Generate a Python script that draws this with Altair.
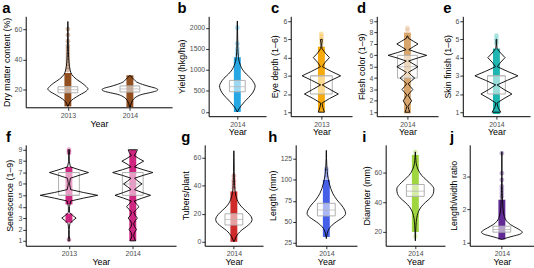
import altair as alt
import pandas as pd

FONT = "Liberation Sans"

# ---------------- values ----------------
# a  Dry matter content (%)
a_years = ["2013", "2014"]
a13_vy = [9, 10, 12, 14, 16.5, 19, 20.5, 22, 24.5, 27, 30, 33, 38, 45, 55, 65]
a13_vw = [0, 0.03, 0.08, 0.2, 0.42, 0.65, 0.72, 0.66, 0.5, 0.3, 0.14, 0.08, 0.04, 0.02, 0.01, 0]
a14_vy = [8.6, 10, 12, 14, 15.5, 17, 18, 19, 20, 21, 22, 23.5, 25, 26.5, 28, 29.5]
a14_vw = [0.01, 0.03, 0.07, 0.14, 0.25, 0.45, 0.7, 0.92, 1.0, 0.92, 0.72, 0.45, 0.25, 0.16, 0.08, 0]
a_strip_lo = [9, 8.6]
a_strip_hi = [31, 29.5]
a13_sparse = [33, 35, 37, 39, 41, 43, 45, 47, 49, 52, 56, 60]
a_q1 = [18, 18.5]
a_med = [20, 20.5]
a_q3 = [22, 22.5]

# b  Yield (hkg/ha)
b_vy = [0, 30, 80, 150, 250, 350, 450, 550, 620, 700, 800, 900, 1000, 1100, 1200, 1300, 1500, 2000, 2160]
b_vw = [0, 0.04, 0.1, 0.22, 0.42, 0.65, 0.85, 0.97, 1.0, 0.92, 0.75, 0.5, 0.3, 0.18, 0.1, 0.06, 0.03, 0.01, 0]
b_strip = [0, 1300]
b_sparse = [1350, 1420, 1500, 1620, 2000]
b_box = [480, 600, 750]

# c  Eye depth (1-6), 2013
c_vy = [1.0, 1.25, 1.5, 1.75, 2.0, 2.25, 2.5, 2.75, 3.0, 3.25, 3.5, 3.75, 4.0, 4.25, 4.5, 4.75, 5.0]
c_vw = [0.16, 0.08, 0.03, 0.42, 0.88, 0.45, 0.04, 0.5, 1.0, 0.5, 0.05, 0.2, 0.42, 0.2, 0.03, 0.02, 0.05]
c_strip = [1.0, 4.6]
c_sparse = [4.8, 5.0, 5.15, 5.3]
c_box = [2, 3, 3]

# d  Flesh color (1-9)
d_vy = [1.0, 1.25, 1.5, 1.75, 2.0, 2.25, 2.5, 2.75, 3.0, 3.25, 3.5, 3.75, 4.0, 4.25, 4.5,
        4.75, 5.0, 5.25, 5.5, 5.75, 6.0, 6.25, 6.5, 6.75, 7.0, 7.25, 7.5, 7.7]
d_vw = [0.12, 0.07, 0.03, 0.12, 0.22, 0.12, 0.03, 0.15, 0.28, 0.15, 0.04, 0.2, 0.38, 0.2, 0.05,
        0.3, 0.55, 0.3, 0.06, 0.5, 1.0, 0.5, 0.07, 0.3, 0.55, 0.3, 0.05, 0.02]
d_strip = [0.9, 8.0]
d_sparse = [8.2, 8.4]
d_box = [4, 5, 6]

# e  Skin finish (1-6)
e_vy = [1.0, 1.25, 1.5, 1.75, 2.0, 2.25, 2.5, 2.75, 3.0, 3.25, 3.5, 3.75, 4.0, 4.25, 4.5, 4.75, 5.0]
e_vw = [0.2, 0.08, 0.02, 0.35, 0.72, 0.35, 0.03, 0.5, 1.0, 0.5, 0.04, 0.2, 0.4, 0.2, 0.03, 0.01, 0.02]
e_strip = [0.9, 4.5]
e_sparse = [4.8, 5.0, 5.2]
e_box = [2, 3, 3]

# f  Senescence (1-9), 2013 & 2014
f_years = ["2013", "2014"]
f13_vy = [1.0, 1.5, 2.0, 2.5, 2.75, 3.0, 3.25, 3.5, 4.0, 4.5, 4.75, 5.0, 5.25, 5.5, 6.0, 6.5,
          6.75, 7.0, 7.25, 7.5, 8.0, 8.5, 9.0]
f13_vw = [0.03, 0.01, 0.01, 0.03, 0.12, 0.25, 0.12, 0.02, 0.02, 0.06, 0.5, 1.0, 0.5, 0.06, 0.02, 0.05,
          0.35, 0.68, 0.35, 0.05, 0.01, 0.01, 0.03]
f14_vy = [1.0, 1.25, 1.5, 1.75, 2.0, 2.25, 2.5, 2.75, 3.0, 3.25, 3.5, 3.75, 4.0, 4.25, 4.5, 4.75, 5.0,
          5.25, 5.5, 5.75, 6.0, 6.25, 6.5, 6.75, 7.0, 7.25, 7.5, 7.75, 8.0, 8.25, 8.5, 8.75, 9.0]
f14_vw = [0.1, 0.05, 0.03, 0.06, 0.13, 0.06, 0.03, 0.08, 0.16, 0.08, 0.04, 0.12, 0.22, 0.12, 0.05, 0.32, 0.62,
          0.32, 0.06, 0.18, 0.32, 0.18, 0.06, 0.36, 0.7, 0.36, 0.06, 0.2, 0.38, 0.2, 0.05, 0.12, 0.16]
f_strip_cat = [1, 1, 2]
f_strip_lo = [2.6, 4.2, 1.0]
f_strip_hi = [3.4, 7.5, 9.0]
f13_sparse = [1.1, 8.7, 8.85, 9.0]
f_q1 = [5, 5]
f_med = [5, 6]
f_q3 = [7, 7]

# g  Tubers/plant
g_vy = [0, 2, 4, 6, 8, 10, 12, 14, 16, 18, 21, 24, 27, 30, 35, 40, 50, 60, 65]
g_vw = [0, 0.07, 0.14, 0.25, 0.4, 0.6, 0.8, 0.95, 1.0, 0.95, 0.75, 0.5, 0.3, 0.18, 0.08, 0.04, 0.02, 0.01, 0]
g_strip = [0, 36]
g_sparse = [38, 40, 42, 44, 47]
g_box = [12, 16, 20]

# h  Length (mm)
h_vy = [30, 33, 38, 42, 46, 50, 54, 57, 60, 64, 70, 76, 84, 95, 105, 115, 125, 135]
h_vw = [0, 0.02, 0.07, 0.15, 0.3, 0.52, 0.78, 0.94, 1.0, 0.95, 0.78, 0.55, 0.33, 0.16, 0.07, 0.03, 0.01, 0]
h_strip = [32, 100]
h_sparse = [103, 106, 110, 113]
h_box = [57, 64, 72]

# i  Diameter (mm)
i_vy = [14, 18, 22, 27, 31, 34, 37, 40, 43, 46, 49, 52, 55, 58, 62, 66, 70, 74]
i_vw = [0, 0.01, 0.025, 0.05, 0.1, 0.18, 0.32, 0.55, 0.82, 0.97, 1.0, 0.85, 0.6, 0.35, 0.15, 0.05, 0.02, 0]
i_strip = [20, 72]
i_sparse = [17, 74]
i_box = [44, 47.5, 52]

# j  Length/width ratio
j_vy = [1.1, 1.15, 1.2, 1.25, 1.32, 1.38, 1.45, 1.55, 1.65, 1.8, 2.0, 2.2, 2.5, 3.0, 3.75]
j_vw = [0, 0.25, 0.55, 0.85, 1.0, 0.9, 0.7, 0.42, 0.24, 0.12, 0.06, 0.04, 0.02, 0.008, 0]
j_strip = [1.1, 2.3]
j_sparse = [2.4, 2.5, 2.6, 2.7, 2.9, 3.1, 3.7]
j_box = [1.32, 1.4, 1.5]

# ---------------- chart building ----------------
VW = 0.45  # half of ggplot's default violin width (in category units)


def panel(letter, ytitle, years, ydom, yticks, width, height, color,
          violins, strips, sparse, boxes, interp="linear", box_px=18, strip_px=7):
    n = len(years)
    xs = alt.Scale(domain=[0.4, n + 0.6], nice=False, zero=False)
    ys = alt.Scale(domain=ydom, nice=False, zero=False)
    lab = "[" + ",".join("'%s'" % y for y in years) + "][datum.value - 1]"
    xax = alt.Axis(values=list(range(1, n + 1)), labelExpr=lab, title="Year")
    yax = alt.Axis(values=yticks, title=ytitle, format="d")

    vrows = []
    for cat, vy, vw in violins:
        for yv, wv in zip(vy, vw):
            vrows.append({"g": cat, "v": yv, "xl": cat - VW * wv, "xr": cat + VW * wv})
    vdf = pd.DataFrame(vrows)
    sdf = pd.DataFrame([{"c": c, "lo": lo, "hi": hi} for c, lo, hi in strips])
    pdf = pd.DataFrame([{"c": c, "v": v} for c, vals in sparse for v in vals])
    bdf = pd.DataFrame([{"c": c, "q1": a, "med": m, "q3": b} for c, a, m, b in boxes])

    strip = alt.Chart(sdf).mark_rule(strokeWidth=strip_px, color=color, opacity=0.95, strokeCap="butt").encode(
        x=alt.X("c:Q", scale=xs, axis=xax), y=alt.Y("lo:Q", scale=ys, axis=yax), y2="hi:Q")
    layers = [strip]
    if len(pdf):
        pts = alt.Chart(pdf).mark_circle(size=24, opacity=0.35, color=color).encode(
            x=alt.X("c:Q", scale=xs, axis=xax), y=alt.Y("v:Q", scale=ys, axis=yax))
        layers.append(pts)
    box = alt.Chart(bdf).mark_bar(size=box_px, fill="white", fillOpacity=0.55,
                                  stroke="#b0b0b0", strokeWidth=1).encode(
        x=alt.X("c:Q", scale=xs, axis=xax), y=alt.Y("q1:Q", scale=ys, axis=yax), y2="q3:Q")
    med = alt.Chart(bdf).mark_tick(orient="horizontal", size=box_px, thickness=1, color="#b0b0b0").encode(
        x=alt.X("c:Q", scale=xs, axis=xax), y=alt.Y("med:Q", scale=ys, axis=yax))
    vio = alt.Chart(vdf).mark_area(orient="horizontal", fillOpacity=0, stroke="black",
                                   strokeWidth=0.9, interpolate=interp).encode(
        y=alt.Y("v:Q", scale=ys, axis=yax), x=alt.X("xl:Q", scale=xs, axis=xax), x2="xr:Q",
        detail="g:N")
    layers += [box, med, vio]
    return alt.layer(*layers).properties(
        width=width, height=height,
        title=alt.TitleParams(letter, anchor="start", frame="bounds", fontSize=15,
                              fontWeight="bold", font=FONT, offset=0, color="black"))


pa = panel("a", "Dry matter content (%)", a_years, [8.4, 68.4], [20, 40, 60], 148, 92, "#8b4513",
           [(1, a13_vy, a13_vw), (2, a14_vy, a14_vw)],
           [(1, a_strip_lo[0], a_strip_hi[0]), (2, a_strip_lo[1], a_strip_hi[1])],
           [(1, a13_sparse)],
           [(i + 1, a_q1[i], a_med[i], a_q3[i]) for i in range(2)], interp="monotone", box_px=20)
pb = panel("b", "Yield (hkg/ha)", ["2014"], [-100, 2270], [0, 500, 1000, 1500, 2000], 58, 101, "#1ba3e3",
           [(1, b_vy, b_vw)], [(1, b_strip[0], b_strip[1])], [(1, b_sparse)],
           [(1, b_box[0], b_box[1], b_box[2])], interp="monotone", box_px=16)
pc = panel("c", "Eye depth (1–6)", ["2013"], [0.78, 6.27], [1, 2, 3, 4, 5, 6], 62, 101, "#f5a500",
           [(1, c_vy, c_vw)], [(1, c_strip[0], c_strip[1])], [(1, c_sparse)],
           [(1, c_box[0], c_box[1], c_box[2])], box_px=22)
pd_ = panel("d", "Flesh color (1–9)", ["2014"], [0.65, 9.43], list(range(1, 10)), 62, 101, "#d6a165",
            [(1, d_vy, d_vw)], [(1, d_strip[0], d_strip[1])], [(1, d_sparse)],
            [(1, d_box[0], d_box[1], d_box[2])], box_px=20)
pe = panel("e", "Skin finish (1–6)", ["2014"], [0.78, 6.27], [1, 2, 3, 4, 5, 6], 68, 101, "#12b2ac",
           [(1, e_vy, e_vw)], [(1, e_strip[0], e_strip[1])], [(1, e_sparse)],
           [(1, e_box[0], e_box[1], e_box[2])], box_px=18)

pf = panel("f", "Senescence (1–9)", f_years, [0.57, 9.43], list(range(1, 10)), 152, 102, "#cc1a7a",
           [(1, f13_vy, f13_vw), (2, f14_vy, f14_vw)],
           [(f_strip_cat[i], f_strip_lo[i], f_strip_hi[i]) for i in range(3)],
           [(1, f13_sparse)],
           [(i + 1, f_q1[i], f_med[i], f_q3[i]) for i in range(2)], box_px=21)
pg = panel("g", "Tubers/plant", ["2014"], [-2.8, 69.2], [0, 20, 40, 60], 59, 102, "#cc2020",
           [(1, g_vy, g_vw)], [(1, g_strip[0], g_strip[1])], [(1, g_sparse)],
           [(1, g_box[0], g_box[1], g_box[2])], interp="monotone")
ph = panel("h", "Length (mm)", ["2014"], [21.5, 141.5], [25, 50, 75, 100, 125], 62, 102, "#3b56e8",
           [(1, h_vy, h_vw)], [(1, h_strip[0], h_strip[1])], [(1, h_sparse)],
           [(1, h_box[0], h_box[1], h_box[2])], interp="monotone")
pi = panel("i", "Diameter (mm)", ["2014"], [10.7, 78.7], [20, 40, 60], 60, 102, "#9ad334",
           [(1, i_vy, i_vw)], [(1, i_strip[0], i_strip[1])], [(1, i_sparse)],
           [(1, i_box[0], i_box[1], i_box[2])], interp="monotone")
pj = panel("j", "Length/width ratio", ["2014"], [0.91, 3.955], [1, 2, 3], 65, 102, "#5a1f8f",
           [(1, j_vy, j_vw)], [(1, j_strip[0], j_strip[1])], [(1, j_sparse)],
           [(1, j_box[0], j_box[1], j_box[2])], interp="monotone")

row1 = alt.hconcat(pa, pb, pc, pd_, pe, spacing=5)
row2 = alt.hconcat(pf, pg, ph, pi, pj, spacing=5)

chart = alt.vconcat(row1, row2, spacing=-7).properties(
    padding={"left": 2, "top": 0, "right": 0, "bottom": 0}
).configure(font=FONT).configure_view(stroke=None).configure_axis(
    grid=False, domainColor="black", domainWidth=1, tickColor="#333333", tickSize=3,
    labelColor="#4d4d4d", labelFontSize=7, labelFont=FONT, labelPadding=1,
    titleFontSize=9, titleFontWeight="normal", titleColor="black", titleFont=FONT, titlePadding=3
).configure_axisX(labelAngle=0, titlePadding=1)

chart.save("out.html", embed_options={"renderer": "svg", "actions": False})
